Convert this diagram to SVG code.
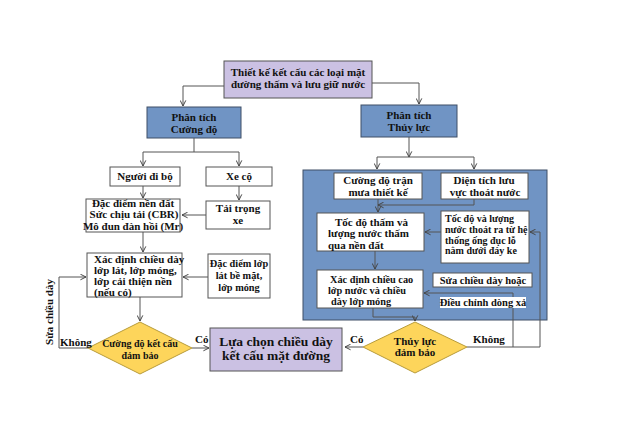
<svg xmlns="http://www.w3.org/2000/svg" width="640" height="426" viewBox="0 0 640 426">
<defs>
<marker id="ah" viewBox="0 0 10 10" refX="9" refY="5" markerWidth="7" markerHeight="7" orient="auto" markerUnits="userSpaceOnUse">
<path d="M1,1 L9,5 L1,9" fill="none" stroke="#444" stroke-width="1.4"/>
</marker>
<style>
.t{font-family:"Liberation Serif","Times New Roman",serif;font-weight:bold;font-size:11px;fill:#111}
.c{text-anchor:middle}
.w{fill:#fff;stroke:#555;stroke-width:1}
.lav{fill:#cbc1e3;stroke:#555;stroke-width:1}
.blu{fill:#7094c4;stroke:#3f4f66;stroke-width:1}
.dia{fill:#fdd55b;stroke:#b89c3a;stroke-width:1}
.cn{fill:none;stroke:#555;stroke-width:1}
.s{font-size:10.3px}
</style>
</defs>
<rect width="640" height="426" fill="#fff"/>

<g id="container">
<rect x="303" y="170" width="244" height="150" class="blu"/>
</g>

<g id="n_top">
<rect x="224" y="61" width="148" height="37" class="lav"/>
<text class="t c" x="298" y="76">Thiết kế kết cấu các loại mặt</text>
<text class="t c" x="298" y="88">đường thấm và lưu giữ nước</text>
</g>
<g id="n_ptcd">
<rect x="147" y="107" width="94" height="31" class="blu"/>
<text class="t c" x="194" y="121">Phân tích</text>
<text class="t c" x="194" y="133">Cường độ</text>
</g>
<g id="n_pttl">
<rect x="361" y="105" width="96" height="32" class="blu"/>
<text class="t c" x="409" y="119">Phân tích</text>
<text class="t c" x="409" y="131">Thủy lực</text>
</g>
<g id="n_ndb">
<rect x="110" y="167" width="70" height="19" class="w"/>
<text class="t c" x="145" y="180">Người đi bộ</text>
</g>
<g id="n_xeco">
<rect x="206" y="167" width="66" height="19" class="w"/>
<text class="t c" x="239" y="180">Xe cộ</text>
</g>
<g id="n_nendat">
<rect x="86" y="199" width="94" height="33" class="w"/>
<text class="t c" x="133" y="207">Đặc điểm nền đất</text>
<text class="t c" x="134" y="218">Sức chịu tải (CBR)</text>
<text class="t c" x="133" y="230">Mô đun đàn hồi (Mr)</text>
</g>
<g id="n_taitrong">
<rect x="206" y="201" width="64" height="28" class="w"/>
<text class="t c" x="238" y="212">Tải trọng</text>
<text class="t c" x="238" y="224">xe</text>
</g>
<g id="n_xdcd">
<rect x="87" y="253" width="95" height="44" class="w"/>
<text class="t" x="94" y="263">Xác định chiều dày</text>
<text class="t" x="94" y="274">lớp lát, lớp móng,</text>
<text class="t" x="94" y="285">lớp cải thiện nền</text>
<text class="t" x="94" y="296">(nếu có)</text>
</g>
<g id="n_lopLat">
<rect x="208" y="254" width="62" height="44" class="w"/>
<text class="t c s" x="239" y="267">Đặc điểm lớp</text>
<text class="t c s" x="239" y="279">lát bề mặt,</text>
<text class="t c s" x="239" y="291">lớp móng</text>
</g>
<g id="n_dcd">
<polygon points="140,322 192,348 140,374 88,348" class="dia"/>
<text class="t c" x="140" y="347" style="font-size:10px">Cường độ kết cấu</text>
<text class="t c" x="140" y="359" style="font-size:10px">đảm bảo</text>
</g>
<g id="n_luachon">
<rect x="210" y="328" width="132" height="43" class="lav"/>
<text class="t c" x="276" y="346" style="font-size:13.5px">Lựa chọn chiều dày</text>
<text class="t c" x="276" y="360" style="font-size:13.5px">kết cấu mặt đường</text>
</g>
<g id="n_mua">
<rect x="334" y="173" width="88" height="26" class="w"/>
<text class="t c" x="378" y="184">Cường độ trận</text>
<text class="t c" x="378" y="196">mưa thiết kế</text>
</g>
<g id="n_dientich">
<rect x="441" y="173" width="87" height="26" class="w"/>
<text class="t c" x="484" y="184">Diện tích lưu</text>
<text class="t c" x="485" y="196">vực thoát nước</text>
</g>
<g id="n_tham">
<rect x="317" y="213" width="107" height="38" class="w"/>
<text class="t" x="335" y="226">Tốc độ thấm và</text>
<text class="t" x="328" y="237">lượng nước thấm</text>
<text class="t" x="328" y="249">qua nền đất</text>
</g>
<g id="n_thoat">
<rect x="441" y="211" width="88" height="52" class="w"/>
<text class="t" x="445" y="222" style="font-size:10px">Tốc độ và lượng</text>
<text class="t" x="445" y="233" style="font-size:10px">nước thoát ra từ hệ</text>
<text class="t" x="445" y="244" style="font-size:10px">thống ống đục lỗ</text>
<text class="t" x="445" y="254" style="font-size:10px">nằm dưới đáy ke</text>
</g>
<g id="n_xdcc">
<rect x="317" y="270" width="106" height="38" class="w"/>
<text class="t s" x="330" y="283">Xác định chiều cao</text>
<text class="t s" x="328" y="294">lớp nước và chiều</text>
<text class="t s" x="331" y="305">dày lớp móng</text>
</g>
<g id="n_sua">
<rect x="433" y="273" width="99" height="14" class="w"/>
<text class="t c" x="483" y="284" style="font-size:10.5px">Sửa chiều dày hoặc</text>
</g>

<g id="connectors">
<path class="cn" d="M224,86 H183 V106" marker-end="url(#ah)"/>
<path class="cn" d="M372,83 H419 V104" marker-end="url(#ah)"/>
<path class="cn" d="M194,138 V152"/>
<path class="cn" d="M143,152 H239"/>
<path class="cn" d="M143,152 V166" marker-end="url(#ah)"/>
<path class="cn" d="M239,152 V166" marker-end="url(#ah)"/>
<path class="cn" d="M409,137 V157" marker-end="url(#ah)"/>
<path class="cn" d="M377,157 H474"/>
<path class="cn" d="M377,157 V169" marker-end="url(#ah)"/>
<path class="cn" d="M474,157 V169" marker-end="url(#ah)"/>
<path class="cn" d="M143,186 V198" marker-end="url(#ah)"/>
<path class="cn" d="M239,186 V200" marker-end="url(#ah)"/>
<path class="cn" d="M206,215 H182" marker-end="url(#ah)"/>
<path class="cn" d="M143,232 V252" marker-end="url(#ah)"/>
<path class="cn" d="M208,277 H183" marker-end="url(#ah)"/>
<path class="cn" d="M140,297 V321" marker-end="url(#ah)"/>
<path class="cn" d="M192,348 H209" marker-end="url(#ah)"/>
<path class="cn" d="M88,348 H59 V277 H86" marker-end="url(#ah)"/>
<path class="cn" d="M378,199 V212" marker-end="url(#ah)"/>
<path class="cn" d="M474,199 V205 H378" marker-end="url(#ah)"/>
<path class="cn" d="M441,232 H425" marker-end="url(#ah)"/>
<path class="cn" d="M375,251 V269" marker-end="url(#ah)"/>
<path class="cn" d="M373,308 V317 H415 V321" marker-end="url(#ah)"/>
<path class="cn" d="M467,347 H540 V232 H530" marker-end="url(#ah)"/>
<path class="cn" d="M513,347 V293 H424" marker-end="url(#ah)"/>
<path class="cn" d="M363,347 H345" marker-end="url(#ah)"/>
</g>

<g id="n_dieuchinh">
<rect x="440" y="297" width="86" height="11" fill="#fff"/>
<text class="t c" x="483" y="306" style="font-size:10.5px">Điều chỉnh dòng xả</text>
</g>
<g id="n_dtl">
<polygon points="415,322 467,347 415,373 363,347" class="dia"/>
<text class="t c" x="415" y="345">Thủy lực</text>
<text class="t c" x="415" y="356">đảm bảo</text>
</g>

<g id="labels">
<text class="t" x="60" y="346">Không</text>
<text class="t" x="195" y="343">Có</text>
<text class="t" x="350" y="343">Có</text>
<text class="t" x="473" y="343">Không</text>
<text class="t c" transform="translate(53,312) rotate(-90)">Sửa chiều dày</text>
</g>
</svg>
